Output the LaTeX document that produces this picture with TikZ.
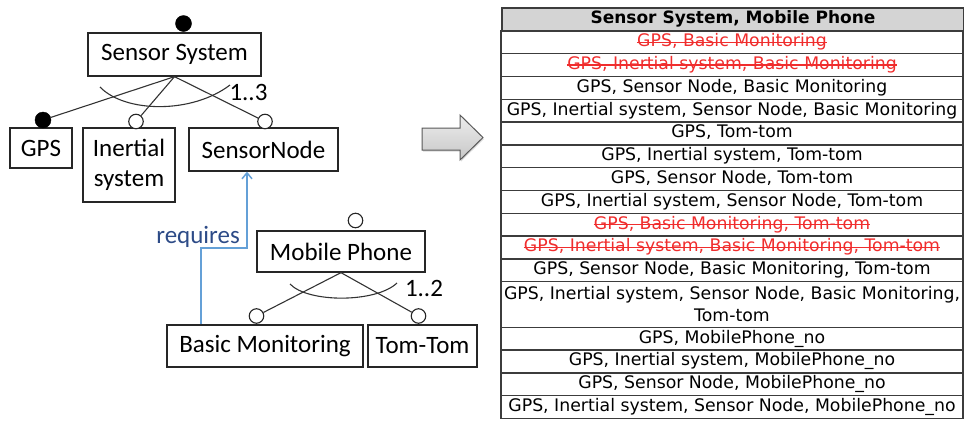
\documentclass[tikz,border=0pt]{standalone}
\usepackage{fontspec}
\usetikzlibrary{arrows.meta,calc,shadows}
\newfontfamily\diafont{Carlito}
\newfontfamily\tabfont{DejaVu Sans}
\definecolor{reqblue}{RGB}{100,160,215}
\definecolor{reqtext}{RGB}{45,75,135}
\definecolor{strikered}{RGB}{240,45,45}
\definecolor{hdrgray}{RGB}{212,212,212}
\definecolor{rulegray}{RGB}{60,60,60}
% a table row whose configuration is struck out in red
\newcommand{\strikerow}[3]{%
  \node[cell] (#1) at (732,#2) {};
  \node[celltext,text=strikered] (#1t) at (#1) {#3};
  \draw[strikered,line width=1.1pt] ([yshift=4.5pt]#1t.base west) -- ([yshift=4.5pt]#1t.base east);}
\begin{document}
\begin{tikzpicture}[x=1pt,y=-1pt,
  feat/.style={draw=black!85,line width=1.3pt,inner sep=0pt,
    font=\diafont\fontsize{25}{30}\selectfont},
  mand/.style={circle,draw=black,fill=black,minimum size=16pt,inner sep=0pt},
  opt/.style={circle,draw=black!85,fill=white,line width=1.1pt,minimum size=14.5pt,inner sep=0pt},
  link/.style={draw=black!80,line width=1.1pt},
  card/.style={font=\diafont\fontsize{25}{30}\selectfont,inner sep=0pt},
  cell/.style={draw=rulegray,line width=1.4pt,minimum width=462pt,minimum height=22.8pt,
    inner sep=0pt,font=\tabfont\fontsize{17.3}{22}\selectfont,align=center,
    text height=12.5pt,text depth=3.5pt},
  celltext/.style={inner sep=0pt,font=\tabfont\fontsize{17.3}{22}\selectfont,
    text height=12.5pt,text depth=3.5pt},
]
\useasboundingbox (0,0) rectangle (964,421);

% ---- Sensor System feature group ----
\node[feat,minimum width=173pt,minimum height=43pt] (ss) at (174.5,54.5) {Sensor System};
\node[mand] (ssroot) at (183.5,23.5) {};
\node[feat,minimum width=62pt,minimum height=40pt] (gps) at (41,148) {GPS};
\node[feat,minimum width=92pt,minimum height=74pt,align=center] (ins) at (129,165) {Inertial\\system};
\node[feat,minimum width=149pt,minimum height=43pt] (sn) at (263.5,149.5) {SensorNode};
\node[mand] (cgps) at (43,120) {};
\node[opt] (cins) at (136,121.5) {};
\node[opt] (csn) at (265,121.5) {};
\draw[link] (ss.south) -- (cgps);
\draw[link] (ss.south) -- (cins);
\draw[link] (ss.south) -- (csn);
\draw[link] (100,87) .. controls (125,113) and (192,114) .. (230,85);
\node[card] (c13) at (248.5,92) {1..3};

% ---- Mobile Phone feature group ----
\node[feat,minimum width=168pt,minimum height=41pt] (mp) at (341,251.5) {Mobile Phone};
\node[opt] (mproot) at (355.5,220.5) {};
\node[feat,minimum width=196pt,minimum height=42pt] (bm) at (265,346) {Basic Monitoring};
\node[feat,minimum width=109pt,minimum height=42pt] (tt) at (422.5,346) {Tom-Tom};
\node[opt] (cbm) at (256.5,316) {};
\node[opt] (ctt) at (418.5,316) {};
\draw[link] (mp.south) -- (cbm);
\draw[link] (mp.south) -- (ctt);
\draw[link] (290,284) .. controls (308,303) and (376,303) .. (397,283);
\node[card] (c12) at (424,288) {1..2};

% ---- requires constraint ----
\coordinate (rk) at (247,248);
\draw[reqblue,line width=1.5pt,-{Straight Barb[length=6pt,width=10pt]}]
  ([xshift=-64pt]bm.north) |- (rk) -- (rk |- sn.south);
\node[font=\diafont\fontsize{25}{30}\selectfont,text=reqtext,anchor=base east,inner sep=0pt]
  (req) at (240,243) {requires};

% ---- block arrow ----
\draw[draw=black!65,line width=1pt,top color=black!7,bottom color=black!22,
  drop shadow={shadow xshift=1pt,shadow yshift=-1.5pt,opacity=0.3}]
  (422,128) -- (460,128) -- (460,115) -- (483,137.5) -- (460,160) -- (460,150) -- (422,150) -- cycle;

% ---- configuration table ----
\node[cell,fill=hdrgray,font=\tabfont\bfseries\fontsize{17}{22}\selectfont] (h) at (733,19.4) {Sensor System, Mobile Phone};
\strikerow{r1}{42.2}{GPS, Basic Monitoring}
\strikerow{r2}{65.0}{GPS, Inertial system, Basic Monitoring}
\node[cell] (r3) at (732,87.8) {GPS, Sensor Node, Basic Monitoring};
\node[cell] (r4) at (732,110.6) {GPS, Inertial system, Sensor Node, Basic Monitoring};
\node[cell] (r5) at (732,133.4) {GPS, Tom-tom};
\node[cell] (r6) at (732,156.2) {GPS, Inertial system, Tom-tom};
\node[cell] (r7) at (732,179.0) {GPS, Sensor Node, Tom-tom};
\node[cell] (r8) at (732,201.8) {GPS, Inertial system, Sensor Node, Tom-tom};
\strikerow{r9}{224.6}{GPS, Basic Monitoring, Tom-tom}
\strikerow{r10}{247.4}{GPS, Inertial system, Basic Monitoring, Tom-tom}
\node[cell] (r11) at (732,270.2) {GPS, Sensor Node, Basic Monitoring, Tom-tom};
\node[cell,minimum height=45.6pt,text height=,text depth=] (r12) at (732,304.4) {GPS, Inertial system, Sensor Node, Basic Monitoring,\\Tom-tom};
\node[cell] (r13) at (732,338.6) {GPS, MobilePhone\_no};
\node[cell] (r14) at (732,361.4) {GPS, Inertial system, MobilePhone\_no};
\node[cell] (r15) at (732,384.2) {GPS, Sensor Node, MobilePhone\_no};
\node[cell] (r16) at (732,407.0) {GPS, Inertial system, Sensor Node, MobilePhone\_no};
\end{tikzpicture}
\end{document}
